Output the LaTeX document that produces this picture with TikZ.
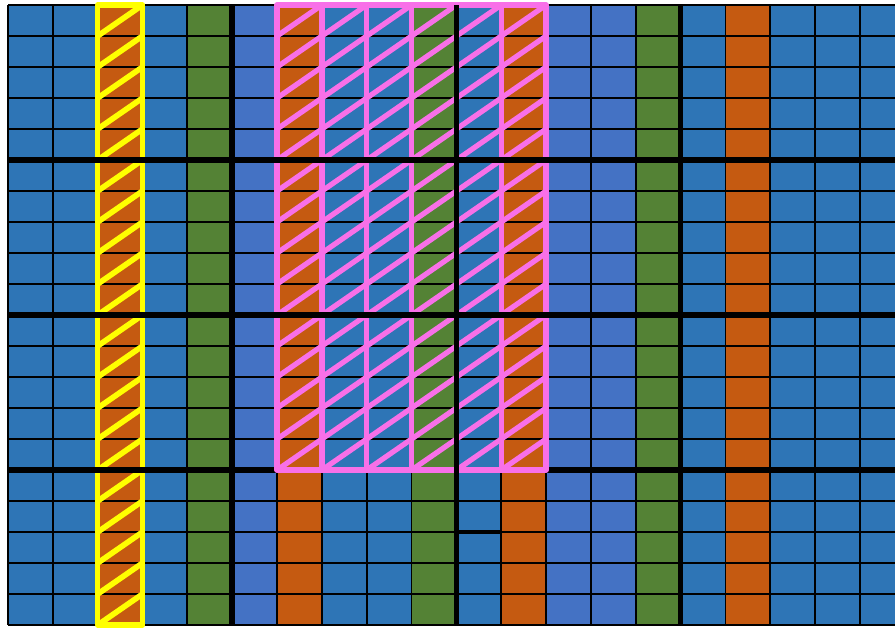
\documentclass[tikz,border=0pt]{standalone}
\usepackage{xcolor}
\usepackage{tikz}
\usetikzlibrary{calc}

\definecolor{cellblue}{HTML}{2E75B6}
\definecolor{cellblueB}{HTML}{4472C4}
\definecolor{cellorange}{HTML}{C55A11}
\definecolor{cellgreen}{HTML}{548235}
\definecolor{hatchpink}{HTML}{F870E8}
\definecolor{hatchyellow}{HTML}{FFFF00}

\begin{document}
\begin{tikzpicture}[x=0.4484cm,y=-0.31cm,
    gridline/.style={black,line width=0.5pt},
    blockline/.style={black,line width=1.6pt},
    yellowhatch/.style={hatchyellow,line width=1.6pt,line join=round},
    pinkhatch/.style={hatchpink,line width=1.5pt,line join=round}]
  \useasboundingbox[fill=white] (-0.1784,-0.1613) rectangle (19.781,20.065);
  \clip (-0.1784,-0.1613) rectangle (19.781,20.065);
  % ---- columns ----
  \foreach \c/\col in {0/cellblue,1/cellblue,2/cellorange,3/cellblue,4/cellgreen,
                       5/cellblueB,6/cellorange,7/cellblue,8/cellblue,9/cellgreen,
                       10/cellblue,11/cellorange,12/cellblueB,13/cellblueB,14/cellgreen,
                       15/cellblue,16/cellorange,17/cellblue,18/cellblue,19/cellblue} {
    \fill[\col] (\c,0) rectangle (\c+1,20);
  }
  % ---- thin cell lines ----
  \foreach \r in {0,...,20} {
    \draw[gridline] (0,\r) -- (20,\r);
  }
  \foreach \c in {0,...,20} {
    \draw[gridline] (\c,0) -- (\c,20);
  }
  \draw[black,line width=1pt] (10,17) -- (11,17);
  % ---- yellow: one column, all rows ----
  \foreach \b in {0,5,10,15} {
    \draw[yellowhatch] (2,\b) rectangle (3,\b+5);
  }
  \foreach \r in {0,...,19} {
    \draw[yellowhatch] (2,\r+1) -- (3,\r);
  }
  \draw[blockline] (0,15) -- (20,15);
  % ---- pink: columns 6 to 11, rows 0 to 14 ----
  \draw[pinkhatch] (6,0) rectangle (12,15);
  \foreach \c in {7,...,11} {
    \draw[pinkhatch] (\c,0) -- (\c,15);
  }
  \foreach \c in {6,...,11} {
    \foreach \r in {0,...,14} {
      \draw[pinkhatch] (\c,\r+1) -- (\c+1,\r);
    }
  }
  % ---- block borders ----
  \foreach \r in {5,10} {
    \draw[blockline] (0,\r) -- (20,\r);
  }
  \foreach \c in {5,10,15} {
    \draw[blockline] (\c,0) -- (\c,20);
  }
\end{tikzpicture}
\end{document}
